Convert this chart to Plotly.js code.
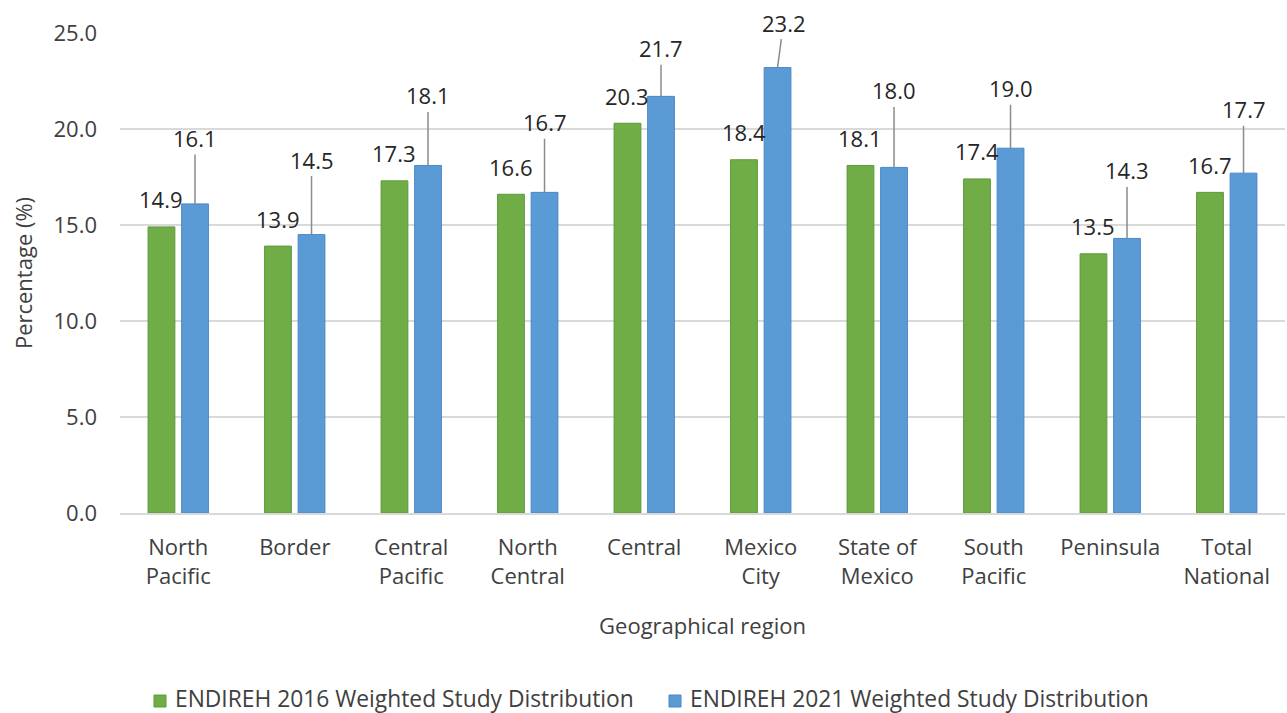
<!DOCTYPE html>
<html>
<head>
<meta charset="utf-8">
<script src="https://cdn.plot.ly/plotly-3.0.1.min.js"></script>
<style>html,body{margin:0;padding:0;background:#fff;}#chart{width:1287px;height:713px;}</style>
</head>
<body>
<div id="chart"></div>
<script>
// ---- data ----
const regions = ["North Pacific","Border","Central Pacific","North Central","Central","Mexico City","State of Mexico","South Pacific","Peninsula","Total National"];
const endireh2016 = [14.9,13.9,17.3,16.6,20.3,18.4,18.1,17.4,13.5,16.7];
const endireh2021 = [16.1,14.5,18.1,16.7,21.7,23.2,18.0,19.0,14.3,17.7];
const seriesNames = ["ENDIREH 2016 Weighted Study Distribution","ENDIREH 2021 Weighted Study Distribution"];
const seriesColors = ['#70AD47','#5B9BD5'];
const seriesEdges = ['#5E9A3A','#4A88C7'];

// ---- label layout (pixel lifts of the leader-lined labels) ----
const lift2021 = [66,75,70,70,48,45,77,60,68,64];
const shift2021 = [0,0,0,0,0,6,0,0,0,0];

const idx = regions.map((_, i) => i);
const tickText = regions.map(r => { const k = r.lastIndexOf(' '); return k < 0 ? r : r.slice(0,k) + '<br>' + r.slice(k+1); });

const FONT = "Open Sans, sans-serif";
const W = 0.23, HALF = 0.144;

const traces = [
  {type:'bar', name:seriesNames[0], x:idx, y:endireh2016, width:W, offset:-HALF-W/2,
   marker:{color:seriesColors[0], line:{color:seriesEdges[0], width:1}}, hoverinfo:'y'},
  {type:'bar', name:seriesNames[1], x:idx, y:endireh2021, width:W, offset:HALF-W/2,
   marker:{color:seriesColors[1], line:{color:seriesEdges[1], width:1}}, hoverinfo:'y'}
];

const annotations = [];
endireh2016.forEach((v, i) => {
  annotations.push({x:i-HALF, y:v, xref:'x', yref:'y', text:v.toFixed(1), showarrow:false,
    yanchor:'middle', xanchor:'center', yshift:27.5, font:{family:FONT, size:22, color:'#262626'}});
});
endireh2021.forEach((v, i) => {
  annotations.push({x:i+HALF, y:v, xref:'x', yref:'y', text:v.toFixed(1), showarrow:true,
    arrowhead:0, arrowwidth:1.5, arrowcolor:'#8C8C8C', ax:shift2021[i], ay:-lift2021[i], standoff:0,
    font:{family:FONT, size:22, color:'#262626'}});
});

// manual legend (paper coordinates of the plot area: 1165 x 480 px)
const PW = 1165, PH = 480;
const legendItems = [{sx:154, tx:174}, {sx:669, tx:689}];
const legendY = 698;
const shapes = [];
legendItems.forEach((it, k) => {
  shapes.push({type:'rect', xref:'paper', yref:'paper',
    x0:(it.sx-120)/PW, x1:(it.sx+12-120)/PW, y0:(513-legendY-9)/PH, y1:(513-legendY+3)/PH,
    fillcolor:seriesColors[k], line:{color:seriesEdges[k], width:1}});
  annotations.push({xref:'paper', yref:'paper', x:(it.tx-120)/PW, y:(513-legendY)/PH,
    xanchor:'left', yanchor:'middle', showarrow:false, text:seriesNames[k], borderpad:0,
    font:{family:FONT, size:22.8, color:'#404040'}});
});

const layout = {
  width:1287, height:713,
  margin:{l:120, r:2, t:33, b:200},
  paper_bgcolor:'#fff', plot_bgcolor:'#fff',
  font:{family:FONT, size:22, color:'#404040'},
  showlegend:false,
  xaxis:{range:[-0.5,9.5], tickvals:idx, ticktext:tickText, showgrid:false, zeroline:false,
    showline:true, linecolor:'#D9D9D9', linewidth:2, ticks:'', ticklabelstandoff:14,
    title:{text:'Geographical region', standoff:30, font:{family:FONT, size:22, color:'#404040'}},
    tickfont:{family:FONT, size:22, color:'#404040'}, fixedrange:true},
  yaxis:{range:[0,25], dtick:5, tickformat:'.1f', showgrid:true, gridcolor:'#D9D9D9', gridwidth:1.5,
    zeroline:false, showline:false, ticks:'', ticklabelstandoff:22,
    title:{text:'Percentage (%)', standoff:14, font:{family:FONT, size:22, color:'#404040'}},
    tickfont:{family:FONT, size:22, color:'#404040'}, fixedrange:true},
  shapes:shapes,
  annotations:annotations
};

Plotly.newPlot('chart', traces, layout, {displayModeBar:false, staticPlot:true});
</script>
</body>
</html>
